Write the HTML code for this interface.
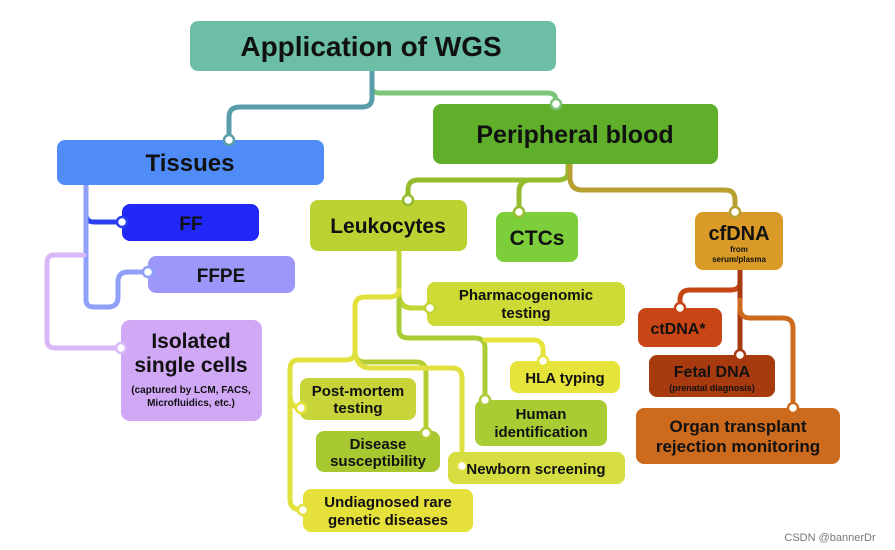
<!DOCTYPE html>
<html><head><meta charset="utf-8"><style>
body{margin:0;background:#fff;}
svg{display:block;font-family:"Liberation Sans",sans-serif;font-weight:bold;}
</style></head><body>
<svg width="895" height="550" viewBox="0 0 895 550" xmlns="http://www.w3.org/2000/svg">
<g fill="none" stroke-width="5" stroke-linecap="round" stroke-linejoin="round">
<path d="M372 71 V88 Q372 93 380 93 H548 Q556 93 556 101 V104" stroke="#7cc47a"/>
<path d="M372 71 V98 Q372 107 362 107 H240 Q229 107 229 117 V140" stroke="#5a9eaa"/>
<path d="M86 185 V214 Q86 222 94 222 H122" stroke="#2a40f0"/>
<path d="M86 185 V300 Q86 307 94 307 H108 Q118 307 118 297 V282 Q118 272 128 272 H148" stroke="#8ea0f8"/>
<path d="M84 255 H54 Q47 255 47 263 V340 Q47 348 55 348 H121" stroke="#d8b8f8"/>
<path d="M568 164 V172 Q568 180 558 180 H418 Q408 180 408 190 V200" stroke="#94bc2c"/>
<path d="M528 180 Q519 182 519 192 V212" stroke="#94bc2c"/>
<path d="M570 164 V180 Q572 190 582 190 H725 Q735 190 735 200 V212" stroke="#b8a030"/>
<path d="M399 251 V295 Q400 308 412 308 H430" stroke="#c2d434"/>
<path d="M399 290 Q399 297 388 297 H365 Q355 297 355 307 V352 Q355 360 345 360 H298 Q290 360 290 370 V500 Q290 510 303 510" stroke="#e2e03a"/>
<path d="M290 395 Q290 408 301 408" stroke="#e2e03a"/>
<path d="M355 352 Q355 362 365 362 H416 Q426 362 426 372 V433" stroke="#b4cc34"/>
<path d="M355 352 Q357 368 370 368 H452 Q462 368 462 378 V466" stroke="#e0e040"/>
<path d="M399 300 V330 Q399 338 409 338 H475 Q485 338 485 348 V400" stroke="#a9cc34"/>
<path d="M485 340 H533 Q543 340 543 350 V361" stroke="#e6e43a"/>
<path d="M740 270 V283 Q740 290 730 290 H690 Q680 290 680 300 V308" stroke="#c84515"/>
<path d="M740 270 V355" stroke="#a83a10"/>
<path d="M740 300 V308 Q740 318 750 318 H783 Q793 318 793 328 V408" stroke="#cc6a1e"/>
</g>
<g>
<rect x="190" y="21" width="366" height="50" rx="8" fill="#6cbfa6"/>
<rect x="433" y="104" width="285" height="60" rx="8" fill="#5faf2a"/>
<rect x="57" y="140" width="267" height="45" rx="8" fill="#4f8cf8"/>
<rect x="122" y="204" width="137" height="37" rx="8" fill="#2127f5"/>
<rect x="148" y="256" width="147" height="37" rx="8" fill="#9e97fa"/>
<rect x="121" y="320" width="141" height="101" rx="9" fill="#d0a8f6"/>
<rect x="310" y="200" width="157" height="51" rx="8" fill="#bcd232"/>
<rect x="496" y="212" width="82" height="50" rx="8" fill="#7ccf3a"/>
<rect x="695" y="212" width="88" height="58" rx="8" fill="#d99a27"/>
<rect x="427" y="282" width="198" height="44" rx="8" fill="#cedb36"/>
<rect x="510" y="361" width="110" height="32" rx="8" fill="#e6e43a"/>
<rect x="475" y="400" width="132" height="46" rx="8" fill="#a9cc34"/>
<rect x="448" y="452" width="177" height="32" rx="8" fill="#d5dd40"/>
<rect x="300" y="378" width="116" height="42" rx="8" fill="#c8d43a"/>
<rect x="316" y="431" width="124" height="41" rx="8" fill="#a8c832"/>
<rect x="303" y="489" width="170" height="43" rx="8" fill="#e6e03a"/>
<rect x="638" y="308" width="84" height="39" rx="8" fill="#c84515"/>
<rect x="649" y="355" width="126" height="42" rx="8" fill="#a83a10"/>
<rect x="636" y="408" width="204" height="56" rx="8" fill="#cc6a1e"/>
</g>
<g fill="#fff" stroke-width="2.5">
<circle cx="556" cy="104" r="5" stroke="#7cc47a"/>
<circle cx="229" cy="140" r="5" stroke="#5a9eaa"/>
<circle cx="122" cy="222" r="5" stroke="#2a40f0"/>
<circle cx="148" cy="272" r="5" stroke="#8ea0f8"/>
<circle cx="121" cy="348" r="5" stroke="#d8b8f8"/>
<circle cx="408" cy="200" r="5" stroke="#94bc2c"/>
<circle cx="519" cy="212" r="5" stroke="#94bc2c"/>
<circle cx="735" cy="212" r="5" stroke="#b8a030"/>
<circle cx="430" cy="308" r="5" stroke="#c2d434"/>
<circle cx="301" cy="408" r="5" stroke="#e2e03a"/>
<circle cx="303" cy="510" r="5" stroke="#e2e03a"/>
<circle cx="426" cy="433" r="5" stroke="#b4cc34"/>
<circle cx="462" cy="466" r="5" stroke="#e0e040"/>
<circle cx="485" cy="400" r="5" stroke="#a9cc34"/>
<circle cx="543" cy="361" r="5" stroke="#e6e43a"/>
<circle cx="680" cy="308" r="5" stroke="#c84515"/>
<circle cx="740" cy="355" r="5" stroke="#a83a10"/>
<circle cx="793" cy="408" r="5" stroke="#cc6a1e"/>
</g>
<g fill="#111" text-anchor="middle">
<text x="371" y="56" font-size="28">Application of WGS</text>
<text x="575" y="143" font-size="25">Peripheral blood</text>
<text x="190" y="171" font-size="24">Tissues</text>
<text x="191" y="230" font-size="19">FF</text>
<text x="221" y="282" font-size="19">FFPE</text>
<text x="191" y="348" font-size="21">Isolated</text>
<text x="191" y="372" font-size="21">single cells</text>
<text x="191" y="393" font-size="10">(captured by LCM, FACS,</text>
<text x="191" y="406" font-size="10">Microfluidics, etc.)</text>
<text x="388" y="233" font-size="21">Leukocytes</text>
<text x="537" y="245" font-size="21">CTCs</text>
<text x="739" y="240" font-size="20">cfDNA</text>
<text x="739" y="252" font-size="8">from</text>
<text x="739" y="262" font-size="8">serum/plasma</text>
<text x="526" y="300" font-size="15">Pharmacogenomic</text>
<text x="526" y="318" font-size="15">testing</text>
<text x="565" y="383" font-size="15">HLA typing</text>
<text x="541" y="419" font-size="15">Human</text>
<text x="541" y="437" font-size="15">identification</text>
<text x="536" y="474" font-size="15">Newborn screening</text>
<text x="358" y="396" font-size="15">Post-mortem</text>
<text x="358" y="413" font-size="15">testing</text>
<text x="378" y="449" font-size="15">Disease</text>
<text x="378" y="466" font-size="15">susceptibility</text>
<text x="388" y="507" font-size="15">Undiagnosed rare</text>
<text x="388" y="525" font-size="15">genetic diseases</text>
<text x="678" y="334" font-size="16">ctDNA*</text>
<text x="712" y="377" font-size="16">Fetal DNA</text>
<text x="712" y="391" font-size="9">(prenatal diagnosis)</text>
<text x="738" y="432" font-size="17">Organ transplant</text>
<text x="738" y="452" font-size="17">rejection monitoring</text>
</g>
<text x="830" y="541" font-size="11" fill="#777" font-weight="normal" text-anchor="middle">CSDN @bannerDr</text>
</svg>
</body></html>
